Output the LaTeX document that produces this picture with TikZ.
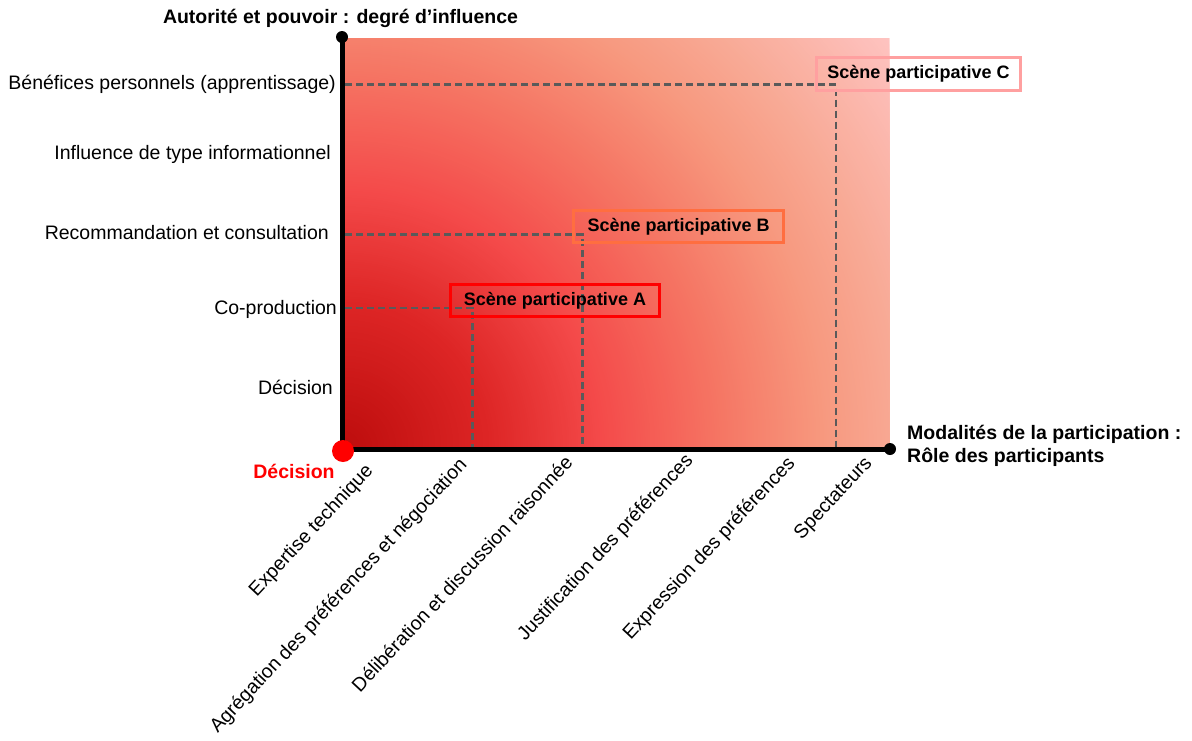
\documentclass[tikz,border=0pt]{standalone}
\usepackage{fontspec}
\setmainfont{Liberation Sans}
\definecolor{g0}{RGB}{188,12,12}
\definecolor{g1}{RGB}{222,38,38}
\definecolor{g2}{RGB}{244,74,74}
\definecolor{g3}{RGB}{245,118,100}
\definecolor{g4}{RGB}{247,152,126}
\definecolor{g5}{RGB}{248,170,150}
\definecolor{g6}{RGB}{255,198,198}
\definecolor{dashgray}{RGB}{90,90,90}
\definecolor{boxA}{RGB}{255,0,0}
\definecolor{boxB}{RGB}{255,110,64}
\definecolor{boxC}{RGB}{255,160,160}
% radial gradient segment: inner radius, outer radius, inner colour, outer colour
\newcommand\gradseg[4]{%
  \foreach \p in {0,2,...,100}{%
    \fill[#3!\p!#4] (O) circle ({#2-(#2-#1)*\p/100});
  }%
}
\tikzset{
  lbl/.style={font=\fontsize{19.5pt}{23pt}\selectfont, inner sep=0pt},
  boldlbl/.style={font=\fontsize{19.5pt}{23pt}\selectfont\bfseries, inner sep=0pt},
  xlbl/.style={lbl, rotate=47, anchor=mid east},
  ylbl/.style={lbl, anchor=mid east},
  scenebox/.style={draw, line width=3pt, font=\fontsize{18pt}{21pt}\selectfont\bfseries,
    inner sep=0pt, minimum height=32pt, anchor=center},
  guide/.style={draw=dashgray, line width=2.6pt, dash pattern=on 7pt off 4pt},
  axis/.style={line width=5pt, draw=black},
}
\begin{document}
\begin{tikzpicture}[x=1pt,y=-1pt]
\useasboundingbox (0,0) rectangle (1192,740);
% coordinates
\coordinate (O) at (342,449);
\coordinate (ytop) at (342,37);
\coordinate (xend) at (890,449);
\coordinate (yA) at (345,308);
\coordinate (xA) at (472.7,448);
\coordinate (yB) at (345,234.5);
\coordinate (xB) at (582.5,448);
\coordinate (yC) at (345,84.5);
\coordinate (xC) at (836,448);
% gradient background
\begin{scope}
\clip (343,38) rectangle (889,448);
\gradseg{560}{700}{g5}{g6}
\gradseg{480}{560}{g4}{g5}
\gradseg{380}{480}{g3}{g4}
\gradseg{260}{380}{g2}{g3}
\gradseg{150}{260}{g1}{g2}
\gradseg{0}{150}{g0}{g1}
\end{scope}
% guide lines
\draw[guide] (yA) -| (xA);
\draw[guide] (yB) -| (xB);
\draw[guide] (yC) -| (xC);
% scene boxes
\node[scenebox, draw=boxA, minimum width=209pt] (sA) at (555,300.8) {Scène participative A};
\node[scenebox, draw=boxB, minimum width=210pt] (sB) at (678.6,226.6) {Scène participative B};
\node[scenebox, draw=boxC, minimum width=204.6pt, minimum height=33pt] (sC) at (918.5,73.8) {Scène participative C};
% axes
\draw[axis] (O) -- (ytop);
\draw[axis] (O) -- (xend);
\fill (ytop) circle (6);
\fill (xend) circle (6);
\fill[boxA] (343,451) circle (11) node (odot) {};
% titles
\node[boldlbl] (ytitle) at (340.5,18) {Autorité et pouvoir : degré d’influence};
\node[boldlbl, anchor=west, align=left] (xtitle) at (907,446) {Modalités de la participation :\\Rôle des participants};
\node[boldlbl, text=boxA] (dec) at (294,471) {Décision};
% y labels
\node[ylbl] (y5) at (336,87) {Bénéfices personnels (apprentissage)};
\node[ylbl] (y4) at (331,157) {Influence de type informationnel};
\node[ylbl] (y3) at (329,237) {Recommandation et consultation};
\node[ylbl] (y2) at (337,312) {Co-production};
\node[ylbl] (y1) at (333,392) {Décision};
% x labels
\node[xlbl] (x1) at (372,470) {Expertise technique};
\node[xlbl] (x2) at (466,464) {Agrégation des préférences et négociation};
\node[xlbl] (x3) at (572,462) {Délibération et discussion raisonnée};
\node[xlbl] (x4) at (692,459) {Justification des préférences};
\node[xlbl] (x5) at (794,462) {Expression des préférences};
\node[xlbl] (x6) at (871,462) {Spectateurs};
\end{tikzpicture}
\end{document}
